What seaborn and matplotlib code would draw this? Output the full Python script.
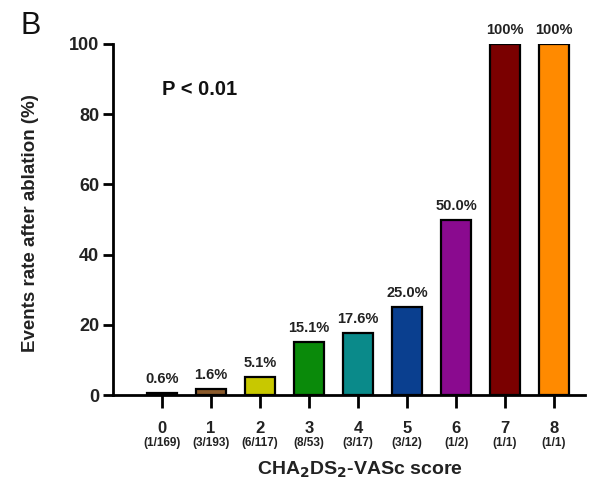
import matplotlib
matplotlib.use("Agg")
import matplotlib.pyplot as plt
import matplotlib.transforms as mtransforms
import seaborn as sns
import pandas as pd

scores = ["0", "1", "2", "3", "4", "5", "6", "7", "8"]
rates = [0.6, 1.6, 5.1, 15.1, 17.6, 25.0, 50.0, 100.0, 100.0]
rate_labels = ["0.6%", "1.6%", "5.1%", "15.1%", "17.6%", "25.0%", "50.0%", "100%", "100%"]
counts = ["(1/169)", "(3/193)", "(6/117)", "(8/53)", "(3/17)", "(3/12)", "(1/2)", "(1/1)", "(1/1)"]
colors = ["#1a1a1a", "#8b5a2b", "#c8c800", "#0a8a0a", "#0a8a8a",
          "#0a3f8f", "#8a0a8f", "#7a0000", "#ff8a00"]

sns.set_theme(style="ticks")
plt.rcParams["font.family"] = ["Liberation Sans", "DejaVu Sans"]

df = pd.DataFrame({"score": scores, "rate": rates})

fig = plt.figure(figsize=(5.9, 4.83), dpi=100)
ax_h = (395 - 44) / 483
ax = fig.add_axes([113 / 590, 1 - 395 / 483, (585 - 113) / 590, ax_h])

sns.barplot(data=df, x="score", y="rate", hue="score", palette=colors,
            legend=False, width=0.6, edgecolor="black", linewidth=1.6,
            saturation=1, ax=ax)

ax.set_xlim(-1.0, 8.63)
ax.set_ylim(0, 100)
ax.set_yticks([0, 20, 40, 60, 80, 100])
sns.despine(ax=ax)
for s in ("left", "bottom"):
    ax.spines[s].set_linewidth(2)
    ax.spines[s].set_color("black")
ax.tick_params(axis="y", width=2, length=7, color="black",
               labelsize=13, pad=3)
ax.tick_params(axis="x", width=2, length=9, color="black",
               labelsize=12, pad=9.5)
for lab in ax.get_xticklabels() + ax.get_yticklabels():
    lab.set_fontweight("bold")
    lab.set_color("#222222")

# value labels above bars
for i, (v, t) in enumerate(zip(rates, rate_labels)):
    ax.annotate(t, (i, v), xytext=(0, 10), textcoords="offset points",
                ha="center", va="center", fontsize=10.5,
                fontweight="bold", color="#222222")

# event counts under each score
trans = mtransforms.blended_transform_factory(ax.transData, ax.transAxes)
for i, c in enumerate(counts):
    ax.text(i, -(443 - 395) / 351, c, transform=trans, ha="center",
            va="center", fontsize=8.5, fontweight="bold", color="#222222")

ax.set_xlabel("CHA$_\\mathbf{2}$DS$_\\mathbf{2}$-VASc score", fontsize=14,
              fontweight="bold", color="#222222", va="center")
ax.xaxis.set_label_coords((360 - 113) / 472, -(470 - 395) / 351)
ax.set_ylabel("Events rate after ablation (%)", fontsize=13.5,
              fontweight="bold", color="#222222", va="center")
ax.yaxis.set_label_coords(-(113 - 31) / 472, 0.49)

ax.text(0, 87, "P < 0.01", fontsize=14.5, fontweight="bold", ha="left",
        va="center", color="#111111")
fig.text(31 / 590, 1 - 26 / 483, "B", fontsize=22, ha="center", va="center",
         color="#111111")

fig.savefig("out.png", dpi=100)
